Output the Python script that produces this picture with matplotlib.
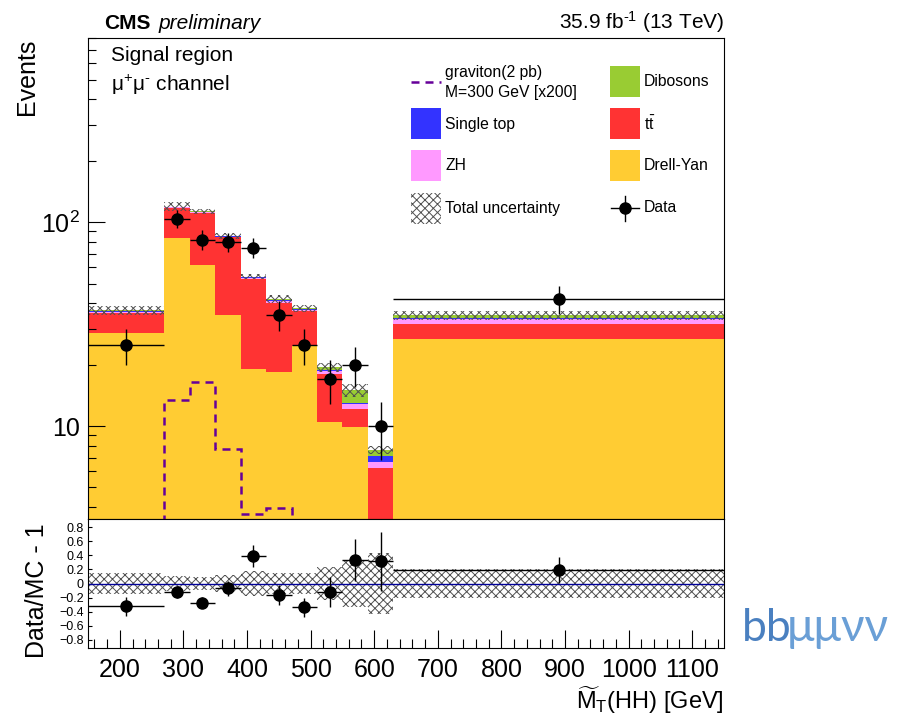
import numpy as np
import matplotlib
matplotlib.use('Agg')
import matplotlib.pyplot as plt
from matplotlib.patches import Rectangle
from matplotlib.lines import Line2D
from matplotlib.ticker import FixedLocator, LogLocator, NullFormatter, FuncFormatter, MultipleLocator

plt.rcParams['font.family'] = 'Liberation Sans'
plt.rcParams['mathtext.fontset'] = 'custom'
plt.rcParams['mathtext.rm'] = 'Liberation Sans'
plt.rcParams['mathtext.it'] = 'Liberation Sans:italic'
plt.rcParams['mathtext.bf'] = 'Liberation Sans:bold'
plt.rcParams['hatch.linewidth'] = 0.7

# bin edges of the transverse mass distribution [GeV]
edges = np.array([150, 270, 310, 350, 390, 430, 470, 510, 550, 590, 630, 1150])

# background yields per bin (stacked bottom -> top)
drell_yan = np.array([28.7, 83.8, 61.7, 35.1, 19.0, 18.4, 24.7, 10.5, 9.9, 0.0, 26.8])
ttbar = np.array([7.2, 33.2, 49.3, 49.0, 33.5, 21.9, 11.8, 7.4, 2.2, 6.2, 5.0])
zh = np.array([0.5, 1.0, 0.9, 0.8, 0.6, 0.7, 0.5, 0.7, 0.7, 0.45, 1.6])
single_top = np.array([0.3, 0.6, 0.5, 0.6, 0.5, 0.5, 0.3, 0.3, 0.2, 0.45, 0.35])
dibosons = np.array([0.3, 0.5, 0.5, 0.4, 0.4, 0.5, 0.6, 0.5, 2.0, 0.5, 1.3])

# graviton signal, M = 300 GeV, scaled x200
graviton = np.array([0.3, 13.4, 16.5, 7.7, 3.7, 3.95, 1.5, 0.8, 0.4, 0.2, 0.05])

# observed events
data = np.array([25, 104, 82, 80, 75, 35, 25, 17, 20, 10, 42])

# relative total uncertainty (main pad band and ratio band)
unc_main = np.array([0.05, 0.05, 0.03, 0.035, 0.03, 0.04, 0.04, 0.05, 0.075, 0.045, 0.05])
unc_ratio = np.array([0.15, 0.105, 0.086, 0.12, 0.175, 0.15, 0.15, 0.23, 0.335, 0.44, 0.205])

colors = {'Drell-Yan': '#ffcc33', 'ttbar': '#ff3333', 'ZH': '#ff99ff',
          'Single top': '#3333ff', 'Dibosons': '#99cc33'}
hatch_col = '#505050'
hatch = 'xxxx'

centers = 0.5 * (edges[:-1] + edges[1:])
widths = np.diff(edges)

fig = plt.figure(figsize=(9, 7.18), dpi=100)
W, H = 900.0, 718.0
ax = fig.add_axes([88 / W, 1 - 519 / H, 636 / W, 481 / H])
rax = fig.add_axes([88 / W, 1 - 648 / H, 636 / W, 129 / H])

# stacked backgrounds
bottom = np.zeros(len(centers))
for vals, key in [(drell_yan, 'Drell-Yan'), (ttbar, 'ttbar'), (zh, 'ZH'),
                  (single_top, 'Single top'), (dibosons, 'Dibosons')]:
    ax.bar(edges[:-1], vals, width=widths, bottom=bottom, align='edge',
           color=colors[key], linewidth=0, zorder=1)
    bottom = bottom + vals
total = bottom

# uncertainty band on the stack
ax.bar(edges[:-1], 2 * total * unc_main, bottom=total * (1 - unc_main), width=widths,
       align='edge', fill=False, hatch=hatch, edgecolor=hatch_col, linewidth=0, zorder=2)

# signal
ax.stairs(graviton, edges, baseline=None, color='#660099', linewidth=1.8,
          linestyle=(0, (3.2, 2.4)), zorder=3)

# data
ax.errorbar(centers, data, xerr=widths / 2, yerr=np.sqrt(data), fmt='o', color='black',
            ms=8, elinewidth=1, capsize=0, zorder=4)

ax.set_yscale('log')
ax.set_xlim(150, 1150)
ax.set_ylim(3.5, 800)
ax.yaxis.set_major_locator(FixedLocator([10, 100]))
ax.set_yticklabels(['10', r'$10^{2}$'])
ax.yaxis.set_minor_locator(LogLocator(subs=np.arange(2, 10)))
ax.yaxis.set_minor_formatter(NullFormatter())
ax.tick_params(axis='x', which='both', bottom=False, labelbottom=False)
ax.tick_params(axis='y', which='major', direction='in', length=12, width=0.8,
               labelsize=18, pad=6)
ax.tick_params(axis='y', which='minor', direction='in', length=6, width=0.8)

# ratio pad
ratio = data / total - 1
ratio_err = np.sqrt(data) / total
rax.bar(edges[:-1], 2 * unc_ratio, bottom=-unc_ratio, width=widths, align='edge',
        fill=False, hatch=hatch, edgecolor=hatch_col, linewidth=0, zorder=1)
rax.axhline(0, color='#000099', lw=1, zorder=2)
rax.errorbar(centers, ratio, xerr=widths / 2, yerr=ratio_err, fmt='o', color='black',
             ms=8, elinewidth=1, capsize=0, zorder=3)
rax.set_xlim(150, 1150)
rax.set_ylim(-0.92, 0.92)
rax.xaxis.set_major_locator(MultipleLocator(100))
rax.xaxis.set_minor_locator(MultipleLocator(20))
rax.yaxis.set_major_locator(MultipleLocator(0.2))
rax.yaxis.set_major_formatter(FuncFormatter(
    lambda v, p: '0' if abs(v) < 1e-9 else f'{v:.1f}'.replace('-', '\u2212')))
rax.tick_params(axis='x', which='major', direction='in', length=13, width=0.8,
                labelsize=18, pad=7)
rax.tick_params(axis='x', which='minor', direction='in', length=6.5, width=0.8)
rax.tick_params(axis='y', which='major', direction='in', length=3, width=0.8,
                labelsize=9, pad=3)

for a in (ax, rax):
    for s in a.spines.values():
        s.set_linewidth(0.8)
        s.set_zorder(10)

# axis titles
fig.text(27 / W, 1 - 39 / H, 'Events', rotation=90, ha='center', va='top', fontsize=18)
fig.text(37 / W, 1 - 591 / H, 'Data/MC - 1', rotation=90, ha='center', va='center',
         fontsize=18)
fig.text(724 / W, 1 - 700 / H, r'$\widetilde{\mathrm{M}}_{\mathrm{T}}$(HH) [GeV]',
         ha='right', va='center', fontsize=17)

# header
fig.text(104 / W, 1 - 29 / H, 'CMS', fontsize=15, fontweight='bold', va='baseline')
fig.text(159 / W, 1 - 29 / H, 'preliminary', fontsize=15, style='italic', va='baseline')
fig.text(724 / W, 1 - 29 / H, r'35.9 fb$^{\text{-}1}$ (13 TeV)', fontsize=15, ha='right',
         va='baseline')
fig.text(111 / W, 1 - 61 / H, 'Signal region', fontsize=15, va='baseline')
fig.text(111 / W, 1 - 91 / H, r'μ$^{+}$μ$^{\text{-}}$ channel', fontsize=15, va='baseline')

# legend, drawn in pixel coordinates on an overlay
lg = fig.add_axes([0, 0, 1, 1], zorder=20)
lg.set_xlim(0, W)
lg.set_ylim(H, 0)
lg.axis('off')
lg.patch.set_alpha(0)
fs = 11.3
lg.add_line(Line2D([411, 441], [82, 82], color='#660099', lw=1.8,
                   linestyle=(0, (3.2, 2.4))))
lg.text(445, 72, 'graviton(2 pb)', fontsize=fs, va='center')
lg.text(445, 93, 'M=300 GeV [x200]', fontsize=fs, va='center')
boxes = [(610, 66, colors['Dibosons'], 'Dibosons'),
         (411, 108, colors['Single top'], 'Single top'),
         (610, 108, colors['ttbar'], r'$\mathrm{t\bar{t}}$'),
         (411, 150, colors['ZH'], 'ZH'),
         (610, 150, colors['Drell-Yan'], 'Drell-Yan')]
for x0, y0, c, lab in boxes:
    lg.add_patch(Rectangle((x0, y0), 30, 31, facecolor=c, edgecolor='none'))
    lg.text(x0 + 34, y0 + 16, lab, fontsize=fs, va='center')
lg.add_patch(Rectangle((411, 193), 30, 31, fill=False, hatch=hatch, edgecolor=hatch_col,
                       linewidth=0))
lg.text(445, 208, 'Total uncertainty', fontsize=fs, va='center')
lg.add_line(Line2D([611, 639], [208, 208], color='black', lw=1))
lg.add_line(Line2D([625, 625], [196, 221], color='black', lw=1))
lg.add_line(Line2D([625], [208], marker='o', ms=8, color='black'))
lg.text(644, 208, 'Data', fontsize=fs, va='center')

# channel tag
fig.text(742 / W, 1 - 641 / H, 'bb', fontsize=32, color='#4a80c0', family='Lato',
         va='baseline')
fig.text(787 / W, 1 - 641 / H, 'μμνν', fontsize=33, color='#6a9fd6', family='Lato',
         va='baseline')

fig.savefig('out.png', dpi=100)
